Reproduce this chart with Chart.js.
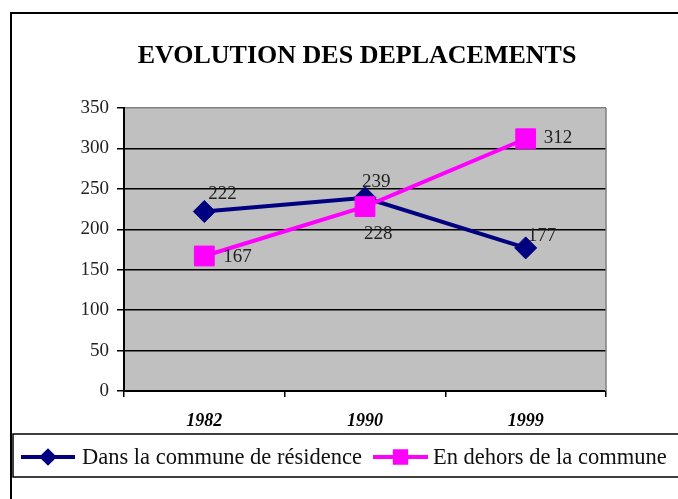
<!DOCTYPE html>
<html lang="fr">
<head>
<meta charset="UTF-8">
<title>Evolution des deplacements</title>
<script src="https://cdn.jsdelivr.net/npm/chart.js@4.4.0/dist/chart.umd.min.js"></script>
<style>
  html, body { margin: 0; padding: 0; background: #fff; }
  canvas { display: block; }
</style>
</head>
<body>
<canvas id="chart" width="678" height="499"></canvas>
<script>
const years = ['1982', '1990', '1999'];
const insideCommune = [222, 239, 177];
const outsideCommune = [167, 228, 312];
const seriesNames = ['Dans la commune de résidence', 'En dehors de la commune'];
const chartTitle = 'EVOLUTION DES DEPLACEMENTS';

const serif = "'Liberation Serif', 'Times New Roman', serif";
const navy = '#000080';
const magenta = '#ff00ff';

// where each value label sits relative to its marker (Excel put them by hand)
const labelShift = [
  [[4, -17], [-3, -16], [2, -12]],
  [[19, 1], [-1, 27], [18, -1]]
];

const decor = {
  id: 'decor',
  beforeDraw(chart) {
    const { ctx, chartArea: a } = chart;
    ctx.save();
    ctx.fillStyle = '#fff';
    ctx.fillRect(0, 0, chart.width, chart.height);
    ctx.fillStyle = '#c0c0c0';
    ctx.fillRect(a.left, a.top, a.right - a.left, a.bottom - a.top);
    // outer frame
    ctx.strokeStyle = '#000';
    ctx.lineWidth = 2;
    ctx.beginPath();
    ctx.moveTo(11, chart.height + 5);
    ctx.lineTo(11, 13);
    ctx.lineTo(chart.width + 5, 13);
    ctx.stroke();
    ctx.restore();
  },
  afterDatasetsDraw(chart) {
    const { ctx, chartArea: a } = chart;
    ctx.save();
    ctx.strokeStyle = '#808080';
    ctx.lineWidth = 1.5;
    ctx.beginPath();
    ctx.moveTo(a.right, a.bottom);
    ctx.lineTo(a.right, a.top);
    ctx.stroke();

    ctx.font = '19px ' + serif;
    ctx.fillStyle = '#222';
    ctx.textBaseline = 'middle';
    ctx.textAlign = 'left';
    chart.data.datasets.forEach((ds, i) => {
      chart.getDatasetMeta(i).data.forEach((pt, j) => {
        const s = labelShift[i][j];
        ctx.fillText(String(ds.data[j]), pt.x + s[0], pt.y + s[1]);
      });
    });
    ctx.restore();
  },
  afterDraw(chart) {
    const { ctx } = chart;
    ctx.save();
    // title
    ctx.fillStyle = '#000';
    ctx.font = 'bold 26px ' + serif;
    ctx.textAlign = 'center';
    ctx.textBaseline = 'middle';
    ctx.fillText(chartTitle, 357, 56);

    // legend box
    ctx.fillStyle = '#fff';
    ctx.fillRect(13, 434, chart.width, 43);
    ctx.strokeStyle = '#000';
    ctx.lineWidth = 1.5;
    ctx.strokeRect(13, 434, chart.width + 10, 43);

    const items = [
      { x0: 21, x1: 75, tx: 82 },
      { x0: 373, x1: 428, tx: 433 }
    ];
    ctx.font = '22.5px ' + serif;
    ctx.textAlign = 'left';
    chart.data.datasets.forEach((ds, i) => {
      const it = items[i];
      const y = 457;
      ctx.strokeStyle = ds.borderColor;
      ctx.lineWidth = 4;
      ctx.beginPath();
      ctx.moveTo(it.x0, y);
      ctx.lineTo(it.x1, y);
      ctx.stroke();
      ctx.fillStyle = ds.borderColor;
      ctx.strokeStyle = ds.borderColor;
      Chart.helpers.drawPoint(ctx, {
        pointStyle: ds.pointStyle,
        radius: i === 0 ? 6 : 8,
        rotation: 0,
        borderWidth: 1
      }, (it.x0 + it.x1) / 2, y);
      ctx.fillStyle = '#111';
      ctx.fillText(ds.label, it.tx, y + 1);
    });
    ctx.restore();
  }
};

new Chart(document.getElementById('chart'), {
  type: 'line',
  data: {
    labels: years,
    datasets: [
      {
        label: seriesNames[0],
        data: insideCommune,
        order: 1,
        borderColor: navy,
        backgroundColor: navy,
        borderWidth: 4,
        pointStyle: 'rectRot',
        pointRadius: 11,
        pointHoverRadius: 11,
        pointBorderWidth: 1,
        tension: 0
      },
      {
        label: seriesNames[1],
        data: outsideCommune,
        order: 0,
        borderColor: magenta,
        backgroundColor: magenta,
        borderWidth: 4,
        pointStyle: 'rect',
        pointRadius: 14,
        pointHoverRadius: 14,
        pointBorderWidth: 1,
        tension: 0
      }
    ]
  },
  options: {
    responsive: false,
    animation: false,
    events: [],
    layout: { padding: { top: 108, right: 72, left: 0, bottom: 0 } },
    plugins: {
      legend: { display: false },
      title: { display: false },
      tooltip: { enabled: false }
    },
    scales: {
      x: {
        offset: true,
        grid: {
          offset: true,
          drawOnChartArea: false,
          tickLength: 6,
          color: '#000',
          lineWidth: 1.5
        },
        border: { color: '#000', width: 2 },
        ticks: {
          color: '#000',
          padding: 14,
          font: { family: serif, size: 18, style: 'italic', weight: 'bold' }
        },
        afterFit(scale) { scale.height = 108; }
      },
      y: {
        min: 0,
        max: 350,
        ticks: {
          stepSize: 50,
          color: '#222',
          padding: 8,
          font: { family: serif, size: 19 }
        },
        grid: {
          color: ctx => (ctx.tick && ctx.tick.value === 350 ? '#808080' : '#000'),
          tickColor: '#000',
          lineWidth: 1.5,
          tickLength: 7
        },
        border: { color: '#000', width: 2 },
        afterFit(scale) { scale.width = 124; }
      }
    }
  },
  plugins: [decor]
});
</script>
</body>
</html>
